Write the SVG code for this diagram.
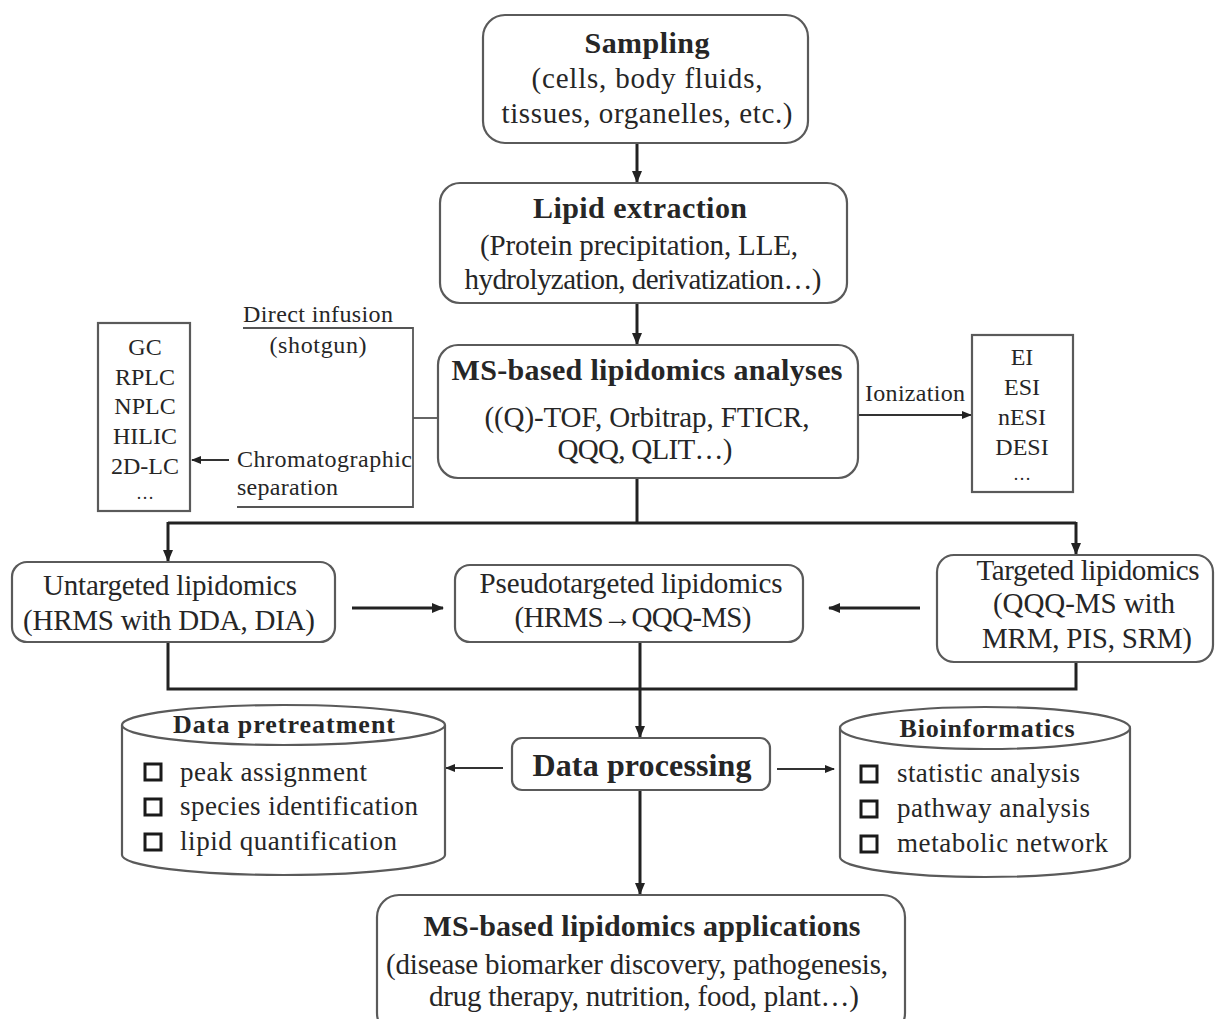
<svg xmlns="http://www.w3.org/2000/svg" width="1217" height="1019" viewBox="0 0 1217 1019">
  <style>
    text { font-family: "Liberation Serif", "Times New Roman", serif; fill: #262626; }
    .t { font-size: 29px; text-anchor: middle; }
    .b { font-size: 30px; font-weight: bold; text-anchor: middle; }
    .s { font-size: 24px; text-anchor: middle; }
    .dots { font-size: 18px; text-anchor: middle; }
    .sl { font-size: 24px; }
    .it { font-size: 27px; }
    .box { fill: #fff; stroke: #5a5a5a; stroke-width: 2.2; }
    .thin { fill: none; stroke: #555; stroke-width: 1.8; }
    .line { fill: none; stroke: #222; stroke-width: 3; }
    .arr { fill: none; stroke: #222; stroke-width: 3; marker-end: url(#ah); }
    .arr2 { fill: none; stroke: #333; stroke-width: 2; marker-end: url(#ahs); }
    .chk { fill: #fff; stroke: #1a1a1a; stroke-width: 3; }
  </style>
  <defs>
    <marker id="ah" markerUnits="userSpaceOnUse" markerWidth="12" markerHeight="10" refX="11" refY="5" orient="auto">
      <path d="M0,0 L12,5 L0,10 Z" fill="#222"/>
    </marker>
    <marker id="ahs" markerUnits="userSpaceOnUse" markerWidth="10" markerHeight="8" refX="9" refY="4" orient="auto">
      <path d="M0,0 L10,4 L0,8 Z" fill="#222"/>
    </marker>
  </defs>

  <rect width="1217" height="1019" fill="#fff"/>

  <!-- connectors -->
  <g id="connectors">
    <line class="arr" x1="637" y1="143" x2="637" y2="182"/>
    <line class="arr" x1="637" y1="303" x2="637" y2="344"/>
    <!-- direct infusion / chromatography bracket -->
    <polyline class="thin" points="243,328 413,328 413,507 237,507"/>
    <line class="thin" x1="413" y1="418" x2="438" y2="418"/>
    <line class="arr2" x1="229" y1="460" x2="192" y2="460"/>
    <!-- ionization -->
    <line class="arr2" x1="858" y1="415" x2="971" y2="415"/>
    <!-- upper bus -->
    <line class="line" x1="637" y1="478" x2="637" y2="523"/>
    <line class="line" x1="168" y1="523" x2="1076" y2="523"/>
    <line class="arr" x1="168" y1="522" x2="168" y2="561"/>
    <line class="arr" x1="1076" y1="522" x2="1076" y2="554"/>
    <!-- tier arrows -->
    <line class="arr" x1="352" y1="608" x2="443" y2="608"/>
    <line class="arr" x1="920" y1="608" x2="829" y2="608"/>
    <!-- lower bus -->
    <polyline class="line" points="168,642 168,689 1076,689 1076,662"/>
    <line class="arr" x1="640" y1="642" x2="640" y2="737"/>
    <line class="arr2" x1="503" y1="768" x2="446" y2="768"/>
    <line class="arr2" x1="777" y1="769" x2="834" y2="769"/>
    <line class="arr" x1="640" y1="790" x2="640" y2="894"/>
  </g>

  <g id="sampling">
    <rect class="box" x="483" y="15" width="325" height="128" rx="22"/>
    <text class="b" x="647" y="53" textLength="125" lengthAdjust="spacing">Sampling</text>
    <text class="t" x="647" y="88" textLength="231" lengthAdjust="spacing">(cells, body fluids,</text>
    <text class="t" x="647" y="123" textLength="291" lengthAdjust="spacing">tissues, organelles, etc.)</text>
  </g>

  <g id="extraction">
    <rect class="box" x="440" y="183" width="407" height="120" rx="20"/>
    <text class="b" x="640" y="218" textLength="214" lengthAdjust="spacing">Lipid extraction</text>
    <text class="t" x="639" y="255" textLength="318" lengthAdjust="spacing">(Protein precipitation, LLE,</text>
    <text class="t" x="643" y="289" textLength="357" lengthAdjust="spacing">hydrolyzation, derivatization…)</text>
  </g>

  <g id="analyses">
    <rect class="box" x="438" y="345" width="420" height="133" rx="20"/>
    <text class="b" x="647" y="380" textLength="391" lengthAdjust="spacing">MS-based lipidomics analyses</text>
    <text class="t" x="647" y="427" textLength="325" lengthAdjust="spacing">((Q)-TOF, Orbitrap, FTICR,</text>
    <text class="t" x="645" y="459" textLength="175" lengthAdjust="spacing">QQQ, QLIT…)</text>
  </g>

  <g id="separation-labels">
    <text class="sl" x="243" y="322" textLength="150" lengthAdjust="spacing">Direct infusion</text>
    <text class="s" x="318" y="353" textLength="97" lengthAdjust="spacing">(shotgun)</text>
    <text class="sl" x="237" y="467" textLength="175" lengthAdjust="spacing">Chromatographic</text>
    <text class="sl" x="237" y="495" textLength="101" lengthAdjust="spacing">separation</text>
  </g>

  <g id="chromatography">
    <rect class="box" x="98" y="323" width="92" height="188"/>
    <text class="s" x="145" y="355">GC</text>
    <text class="s" x="145" y="385">RPLC</text>
    <text class="s" x="145" y="414">NPLC</text>
    <text class="s" x="145" y="444">HILIC</text>
    <text class="s" x="145" y="474">2D-LC</text>
    <text class="dots" x="145" y="499" textLength="24" lengthAdjust="spacing">…</text>
  </g>

  <g id="ionization">
    <text class="sl" x="865" y="401" textLength="100" lengthAdjust="spacing">Ionization</text>
    <rect class="box" x="972" y="335" width="101" height="157"/>
    <text class="s" x="1022" y="365">EI</text>
    <text class="s" x="1022" y="395">ESI</text>
    <text class="s" x="1022" y="425">nESI</text>
    <text class="s" x="1022" y="455">DESI</text>
    <text class="dots" x="1022" y="480" textLength="24" lengthAdjust="spacing">…</text>
  </g>

  <g id="untargeted">
    <rect class="box" x="12" y="562" width="323" height="80" rx="15"/>
    <text class="t" x="170" y="595" textLength="254" lengthAdjust="spacing">Untargeted lipidomics</text>
    <text class="t" x="169" y="630" textLength="292" lengthAdjust="spacing">(HRMS with DDA, DIA)</text>
  </g>

  <g id="pseudotargeted">
    <rect class="box" x="455" y="565" width="348" height="77" rx="15"/>
    <text class="t" x="631" y="593" textLength="303" lengthAdjust="spacing">Pseudotargeted lipidomics</text>
    <text class="t" x="633" y="627" textLength="237" lengthAdjust="spacing">(HRMS→QQQ-MS)</text>
  </g>

  <g id="targeted">
    <rect class="box" x="937" y="555" width="276" height="107" rx="17"/>
    <text class="t" x="1088" y="580" textLength="223" lengthAdjust="spacing">Targeted lipidomics</text>
    <text class="t" x="1084" y="613" textLength="182" lengthAdjust="spacing">(QQQ-MS with</text>
    <text class="t" x="1087" y="648" textLength="210" lengthAdjust="spacing">MRM, PIS, SRM)</text>
  </g>

  <g id="processing">
    <rect class="box" x="512" y="738" width="258" height="52" rx="10"/>
    <text class="b" x="642" y="776" style="font-size:32px" textLength="219" lengthAdjust="spacing">Data processing</text>
  </g>

  <g id="pretreatment">
    <path class="box" d="M122,725 L122,855 A161.5,20 0 0 0 445,855 L445,725"/>
    <ellipse class="box" cx="283.5" cy="725" rx="161.5" ry="20"/>
    <text class="b" x="284" y="733" style="font-size:26px" textLength="222" lengthAdjust="spacing">Data pretreatment</text>
    <rect class="chk" x="145" y="764" width="16" height="16"/>
    <rect class="chk" x="145" y="799" width="16" height="16"/>
    <rect class="chk" x="145" y="834" width="16" height="16"/>
    <text class="it" x="180" y="781" textLength="187" lengthAdjust="spacing">peak assignment</text>
    <text class="it" x="180" y="815" textLength="238" lengthAdjust="spacing">species identification</text>
    <text class="it" x="180" y="850" textLength="217" lengthAdjust="spacing">lipid quantification</text>
  </g>

  <g id="bioinformatics">
    <path class="box" d="M840,728 L840,857 A145,20 0 0 0 1130,857 L1130,728"/>
    <ellipse class="box" cx="985" cy="728" rx="145" ry="21"/>
    <text class="b" x="987" y="737" style="font-size:26px" textLength="175" lengthAdjust="spacing">Bioinformatics</text>
    <rect class="chk" x="861" y="766" width="16" height="16"/>
    <rect class="chk" x="861" y="801" width="16" height="16"/>
    <rect class="chk" x="861" y="836" width="16" height="16"/>
    <text class="it" x="897" y="782" textLength="183" lengthAdjust="spacing">statistic analysis</text>
    <text class="it" x="897" y="817" textLength="193" lengthAdjust="spacing">pathway analysis</text>
    <text class="it" x="897" y="852" textLength="211" lengthAdjust="spacing">metabolic network</text>
  </g>

  <g id="applications">
    <rect class="box" x="377" y="895" width="528" height="140" rx="22"/>
    <text class="b" x="642" y="936" textLength="437" lengthAdjust="spacing">MS-based lipidomics applications</text>
    <text class="t" x="637" y="974" textLength="502" lengthAdjust="spacing">(disease biomarker discovery, pathogenesis,</text>
    <text class="t" x="644" y="1006" textLength="430" lengthAdjust="spacing">drug therapy, nutrition, food, plant…)</text>
  </g>
</svg>
